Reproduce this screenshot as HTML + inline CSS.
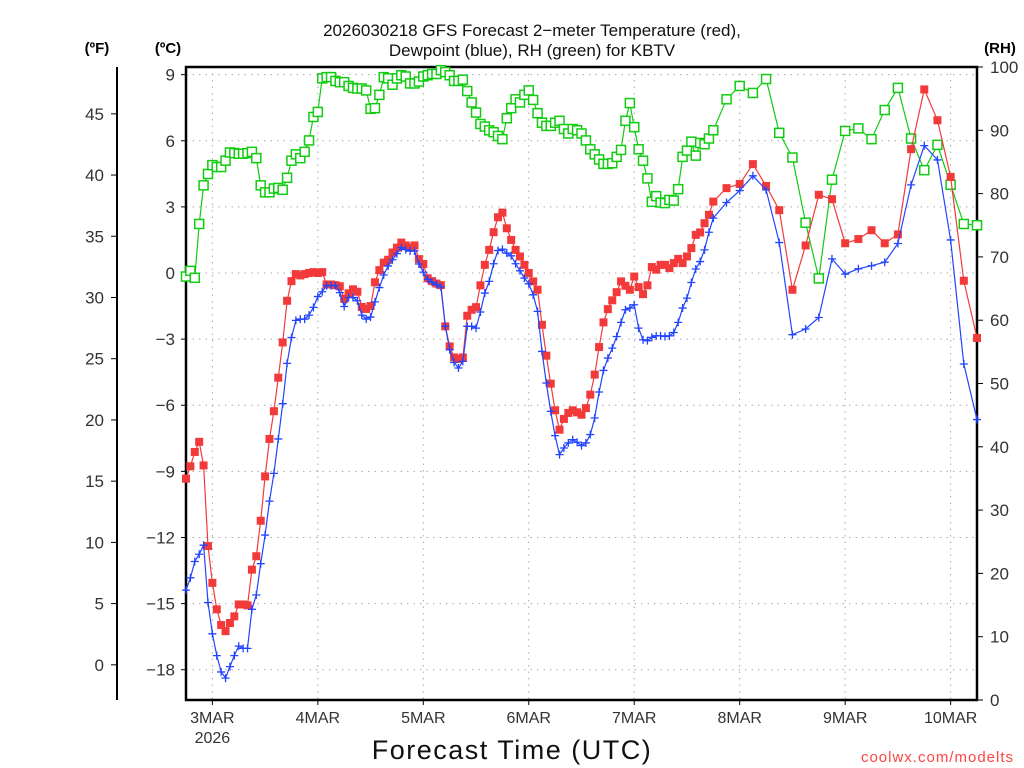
<!DOCTYPE html>
<html><head><meta charset="utf-8"><style>
html,body{margin:0;padding:0;background:#fff;width:1024px;height:768px;overflow:hidden}
svg{display:block;font-family:"Liberation Sans",sans-serif}
</style></head><body>
<svg id="chart" width="1024" height="768" viewBox="0 0 1024 768">
<text x="532" y="36" text-anchor="middle" font-size="17" fill="#111">2026030218 GFS Forecast 2−meter Temperature (red),</text>
<text x="532" y="56" text-anchor="middle" font-size="17" fill="#111">Dewpoint (blue), RH (green) for KBTV</text>
<text x="97" y="53" text-anchor="middle" font-size="15" font-weight="bold">(ºF)</text>
<text x="168" y="53" text-anchor="middle" font-size="15" font-weight="bold">(ºC)</text>
<text x="1000" y="53" text-anchor="middle" font-size="15" font-weight="bold">(RH)</text>
<text x="512" y="759" text-anchor="middle" font-size="27" fill="#111" letter-spacing="1.5">Forecast Time (UTC)</text>
<text x="1014" y="762" text-anchor="end" font-size="15" fill="#f44" letter-spacing="1">coolwx.com/modelts</text>
<g id="grid"></g><g id="axes"></g><g id="series"></g>
</svg>
<script>
const hoursHourly = Array.from({length:121},(_,i)=>i);
const hours3 = [123,126,129,132,135,138,141,144,147,150,153,156,159,162,165,168,171,174,177,180];
const tempHourly = [-9.33,-8.77,-8.12,-7.66,-8.73,-12.39,-14.06,-15.26,-15.97,-16.25,-15.88,-15.58,-15.04,-15.04,-15.08,-13.46,-12.85,-11.24,-9.23,-7.53,-6.27,-4.75,-3.15,-1.26,-0.37,-0.05,-0.11,-0.05,0,0.04,0,0.04,-0.52,-0.52,-0.55,-0.6,-1.17,-0.92,-0.74,-0.85,-1.54,-1.63,-1.5,-0.42,0.13,0.47,0.6,0.93,1.15,1.38,1.25,1.15,1.25,0.63,0.41,-0.24,-0.37,-0.48,-0.55,-2.42,-3.33,-3.83,-3.9,-3.83,-1.94,-1.67,-1.55,-0.56,0.37,1.05,1.85,2.53,2.74,2.03,1.5,1.05,0.75,0.37,0,-0.38,-0.76,-2.35,-3.75,-5.02,-6.23,-7.11,-6.62,-6.35,-6.23,-6.32,-6.43,-6.13,-5.52,-4.61,-3.36,-2.24,-1.64,-1.24,-0.87,-0.38,-0.58,-0.76,-0.16,-0.64,-0.96,-0.56,0.27,0.15,0.37,0.37,0.22,0.45,0.64,0.45,0.75,1.13,1.73,1.84,2.26,2.64,3.24];
const temp3 = [3.85,4.04,4.94,3.95,2.85,-0.76,1.25,3.55,3.35,1.35,1.54,1.94,1.35,1.75,5.62,8.33,6.93,4.36,-0.35,-2.95];
const dewHourly = [-14.39,-13.83,-13.09,-12.76,-12.35,-14.95,-16.37,-17.36,-18.1,-18.38,-17.86,-17.36,-16.93,-17.03,-17.03,-15.26,-14.61,-13.19,-11.89,-10.35,-9.09,-7.53,-5.93,-4.1,-2.93,-2.15,-2.09,-2.09,-1.91,-1.56,-1.07,-0.85,-0.57,-0.57,-0.57,-0.89,-1.52,-1.11,-1.11,-1.26,-1.91,-2.09,-2.0,-1.31,-0.66,-0.09,0.32,0.6,0.88,1.15,1.06,1.0,1.0,0.41,0.04,-0.29,-0.42,-0.52,-0.63,-2.42,-3.48,-4.06,-4.31,-4.01,-2.42,-2.42,-2.5,-1.77,-0.91,-0.38,0.42,1.02,1.08,0.9,0.78,0.42,0.1,-0.23,-0.49,-0.99,-1.74,-3.56,-4.99,-6.28,-7.38,-8.24,-7.94,-7.71,-7.56,-7.68,-7.83,-7.71,-7.33,-6.58,-5.4,-4.42,-3.86,-3.41,-2.88,-2.24,-1.67,-1.59,-1.44,-2.5,-3.03,-3.07,-2.92,-2.85,-2.85,-2.88,-2.85,-2.7,-2.24,-1.59,-1.14,-0.43,0.18,0.52,1.05,1.85,2.49];
const dew3 = [3.2,3.74,4.41,3.77,1.38,-2.8,-2.54,-2.02,0.64,-0.05,0.19,0.33,0.49,1.34,4.0,5.78,5.13,1.5,-4.13,-6.65];
const rhHourly = [66.9,67.8,66.7,75.2,81.3,83.1,84.5,84.2,84.2,85.2,86.5,86.4,86.3,86.3,86.4,86.6,85.6,81.3,80.2,80.2,80.8,80.9,80.6,82.5,85.2,86.2,85.6,86.6,88.4,92.1,92.9,98.2,98.4,98.4,97.8,97.6,97.6,97.0,96.7,96.6,96.6,96.3,93.4,93.5,95.6,98.4,98.2,97.2,98.2,98.7,98.5,97.4,97.4,97.7,98.5,98.7,98.9,98.9,99.5,99.2,98.7,97.8,97.8,98.0,96.2,94.4,92.8,91.0,90.6,90.0,89.7,89.1,88.6,91.9,93.5,94.9,94.4,95.6,96.3,94.8,92.7,91.2,90.7,90.7,91.2,91.5,90.2,89.5,90.2,90.0,89.5,88.4,87.0,86.2,85.4,84.7,84.7,84.8,85.8,86.9,91.5,94.3,90.5,87.0,85.2,82.4,78.7,79.6,78.6,78.5,79.0,78.9,80.7,85.8,86.8,88.2,86.0,88.0,87.8,88.7,90.0];
const rh3 = [94.9,97.0,95.9,98.1,89.6,85.7,75.4,66.6,82.2,89.9,90.3,88.6,93.2,96.7,88.7,83.7,87.7,81.4,75.2,75.0];
const celsiusTicks = [-18,-15,-12,-9,-6,-3,0,3,6,9];
const fahrenheitTicks = [0,5,10,15,20,25,30,35,40,45];
const rhTicks = [0,10,20,30,40,50,60,70,80,90,100];
const dayLabels = ["3MAR","4MAR","5MAR","6MAR","7MAR","8MAR","9MAR","10MAR"];
const dayHours = [6,30,54,78,102,126,150,174];

const NS="http://www.w3.org/2000/svg";
const L=186,R=977,T=67,B=700;
const xS=h=>L+h*(R-L)/180;
const yC=c=>273-c*22.04;
const yR=r=>B-r*(B-T)/100;
const yF=f=>yC((f-32)*5/9);
function mk(tag,attrs,parent){const e=document.createElementNS(NS,tag);for(const k in attrs)e.setAttribute(k,attrs[k]);parent.appendChild(e);return e;}
const grid=document.getElementById('grid'),axes=document.getElementById('axes'),ser=document.getElementById('series');
celsiusTicks.forEach(c=>{
  const g=mk('line',{x1:L,x2:R,y1:yC(c),y2:yC(c),stroke:'#aaa','stroke-dasharray':'1.5 5'},grid);
  
  
  mk('line',{x1:L-5,x2:L,y1:yC(c),y2:yC(c),stroke:'#000'},axes);
  const t=mk('text',{x:L-11,y:yC(c)+6,'text-anchor':'end','font-size':17,fill:'#333'},axes);
  t.textContent=c<0?'−'+Math.abs(c):String(c);
  
  
});
dayHours.forEach((h,i)=>{
  const g=mk('line',{x1:xS(h),x2:xS(h),y1:T,y2:B,stroke:'#aaa','stroke-dasharray':'1.5 5'},grid);
  
  
  mk('line',{x1:xS(h),x2:xS(h),y1:B,y2:B+5,stroke:'#000'},axes);
  const t=mk('text',{x:xS(h),y:723,'text-anchor':'middle','font-size':16,fill:'#333'},axes);
  t.textContent=dayLabels[i];
  
  
});
const yr=mk('text',{x:xS(6),y:743,'text-anchor':'middle','font-size':16,fill:'#333'},axes);
yr.textContent='2026';


fahrenheitTicks.forEach(f=>{
  mk('line',{x1:111,x2:117,y1:yF(f),y2:yF(f),stroke:'#000'},axes);
  const t=mk('text',{x:104,y:yF(f)+6,'text-anchor':'end','font-size':17,fill:'#333'},axes);
  t.textContent=String(f);
  
  
});
rhTicks.forEach(r=>{
  mk('line',{x1:R,x2:R+6,y1:yR(r),y2:yR(r),stroke:'#000'},axes);
  const t=mk('text',{x:990,y:yR(r)+6,'text-anchor':'start','font-size':17,fill:'#333'},axes);
  t.textContent=String(r);
  
  
});
const fa=mk('line',{x1:117,x2:117,y1:T,y2:B,stroke:'#000','stroke-width':2},axes);


const fr=mk('rect',{x:L,y:T,width:R-L,height:B-T,fill:'none',stroke:'#000','stroke-width':2.5},axes);



const allH=hoursHourly.concat(hours3);
function series(vals,yf,color,marker,name){
  const g=mk('g',{},ser);
  
  
  const pts=vals.map((v,i)=>xS(allH[i]).toFixed(1)+','+yf(v).toFixed(1)).join(' ');
  mk('polyline',{points:pts,fill:'none',stroke:color,'stroke-width':1.2},g);
  vals.forEach((v,i)=>{
    const x=xS(allH[i]),y=yf(v);let m;
    if(marker==='fill'){m=mk('rect',{x:x-4,y:y-4,width:8,height:8,fill:color},g);}
    else if(marker==='open'){m=mk('rect',{x:x-4.5,y:y-4.5,width:9,height:9,fill:'#fff',stroke:color,'stroke-width':1.5},g);}
    else{m=mk('path',{d:`M${x-4} ${y}H${x+4}M${x} ${y-4}V${y+4}`,stroke:color,'stroke-width':1.3,fill:'none'},g);}
    
    
  });
}
series(rhHourly.concat(rh3),yR,'#11cc11','open','rh-series');
series(tempHourly.concat(temp3),yC,'#f33a3a','fill','temperature-series');
series(dewHourly.concat(dew3),yC,'#2244ff','plus','dewpoint-series');
</script>
</body></html>
